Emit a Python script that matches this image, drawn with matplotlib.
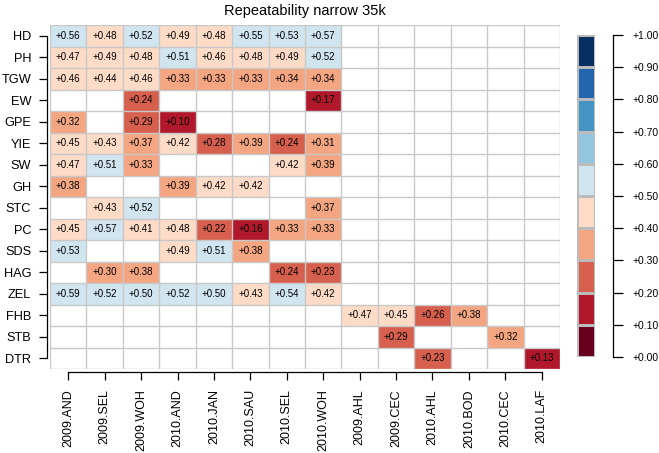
import numpy as np
import matplotlib
matplotlib.use('Agg')
import matplotlib.pyplot as plt
from matplotlib.colors import ListedColormap, BoundaryNorm

plt.rcParams['font.family'] = ['Liberation Sans', 'DejaVu Sans']

traits = ['HD', 'PH', 'TGW', 'EW', 'GPE', 'YIE', 'SW', 'GH', 'STC', 'PC',
          'SDS', 'HAG', 'ZEL', 'FHB', 'STB', 'DTR']
envs = ['2009.AND', '2009.SEL', '2009.WOH', '2010.AND', '2010.JAN', '2010.SAU',
        '2010.SEL', '2010.WOH', '2009.AHL', '2009.CEC', '2010.AHL', '2010.BOD',
        '2010.CEC', '2010.LAF']

n = None
HD  = [0.56, 0.48, 0.52, 0.49, 0.48, 0.55, 0.53, 0.57, n, n, n, n, n, n]
PH  = [0.47, 0.49, 0.48, 0.51, 0.46, 0.48, 0.49, 0.52, n, n, n, n, n, n]
TGW = [0.46, 0.44, 0.46, 0.33, 0.33, 0.33, 0.34, 0.34, n, n, n, n, n, n]
EW  = [n, n, 0.24, n, n, n, n, 0.17, n, n, n, n, n, n]
GPE = [0.32, n, 0.29, 0.10, n, n, n, n, n, n, n, n, n, n]
YIE = [0.45, 0.43, 0.37, 0.42, 0.28, 0.39, 0.24, 0.31, n, n, n, n, n, n]
SW  = [0.47, 0.51, 0.33, n, n, n, 0.42, 0.39, n, n, n, n, n, n]
GH  = [0.38, n, n, 0.39, 0.42, 0.42, n, n, n, n, n, n, n, n]
STC = [n, 0.43, 0.52, n, n, n, n, 0.37, n, n, n, n, n, n]
PC  = [0.45, 0.57, 0.41, 0.48, 0.22, 0.16, 0.33, 0.33, n, n, n, n, n, n]
SDS = [0.53, n, n, 0.49, 0.51, 0.38, n, n, n, n, n, n, n, n]
HAG = [n, 0.30, 0.38, n, n, n, 0.24, 0.23, n, n, n, n, n, n]
ZEL = [0.59, 0.52, 0.50, 0.52, 0.50, 0.43, 0.54, 0.42, n, n, n, n, n, n]
FHB = [n, n, n, n, n, n, n, n, 0.47, 0.45, 0.26, 0.38, n, n]
STB = [n, n, n, n, n, n, n, n, n, 0.29, n, n, 0.32, n]
DTR = [n, n, n, n, n, n, n, n, n, n, 0.23, n, n, 0.13]

rows = [HD, PH, TGW, EW, GPE, YIE, SW, GH, STC, PC, SDS, HAG, ZEL, FHB, STB, DTR]
data = np.array([[np.nan if v is None else v for v in r] for r in rows])

colors = ['#67001f', '#b2182b', '#d6604d', '#f4a582', '#fddbc7',
          '#d1e5f0', '#92c5de', '#4393c3', '#2166ac', '#053061']
bounds = np.round(np.linspace(0, 1, 11), 2)
cmap = ListedColormap(colors)
norm = BoundaryNorm(bounds, cmap.N)

W, H = 659, 453
fig = plt.figure(figsize=(W / 100, H / 100), dpi=100)

# main heatmap
ax = fig.add_axes([50 / W, (H - 369) / H, 510 / W, 344 / H])
nr, nc = data.shape
ax.pcolormesh(np.arange(nc + 1) - 0.5, np.arange(nr + 1) - 0.5,
              np.ma.masked_invalid(data), cmap=cmap, norm=norm)
ax.set_xlim(-0.5, nc - 0.5)
ax.set_ylim(nr - 0.5, -0.5)
grid_c = '#c8c8c8'
ax.hlines(np.arange(nr + 1) - 0.5, -0.5, nc - 0.5, color=grid_c, lw=1.0)
ax.vlines(np.arange(nc + 1) - 0.5, -0.5, nr - 0.5, color=grid_c, lw=1.0)

for i in range(nr):
    for j in range(nc):
        v = data[i, j]
        if not np.isnan(v):
            ax.text(j, i, f'{v:+.2f}', ha='center', va='center', fontsize=7, color='black')

for s in ['top', 'right']:
    ax.spines[s].set_visible(False)
ax.spines['left'].set_position(('outward', 2))
ax.spines['bottom'].set_position(('outward', 2))
ax.spines['left'].set_bounds(0, nr - 1)
ax.spines['bottom'].set_bounds(0, nc - 1)
ax.spines['left'].set_linewidth(0.9)
ax.spines['bottom'].set_linewidth(0.9)
ax.set_yticks(range(nr))
ax.set_yticklabels(traits, fontsize=9.2)
ax.set_xticks(range(nc))
ax.set_xticklabels(envs, rotation=90, fontsize=9)
ax.tick_params(axis='y', length=6, width=0.9, pad=5.5)
ax.tick_params(axis='x', length=6, width=0.9, pad=6.5)
ax.set_title('Repeatability narrow 35k', fontsize=10.5, pad=7)

# colour key
cax = fig.add_axes([577 / W, (H - 357) / H, 18 / W, 322 / H])
cax.pcolormesh([0, 1], bounds, (bounds[:-1] + 0.05).reshape(-1, 1),
               cmap=cmap, norm=norm, edgecolors='#bbbbbb', linewidth=0.8)
cax.set_xlim(0, 1)
cax.set_ylim(0, 1)
cax.axis('off')

kax = fig.add_axes([600 / W, (H - 357) / H, 13 / W, 322 / H])
kax.set_ylim(0, 1)
kax.set_xticks([])
for s in ['top', 'left', 'bottom']:
    kax.spines[s].set_visible(False)
kax.patch.set_visible(False)
kax.spines['right'].set_linewidth(0.9)
kax.yaxis.set_ticks_position('right')
kax.set_yticks(bounds)
kax.set_yticklabels([f'{b:+.2f}' for b in bounds], fontsize=7.5)
kax.tick_params(axis='y', length=7, width=0.9, pad=7)

fig.savefig('out.png', dpi=100)
